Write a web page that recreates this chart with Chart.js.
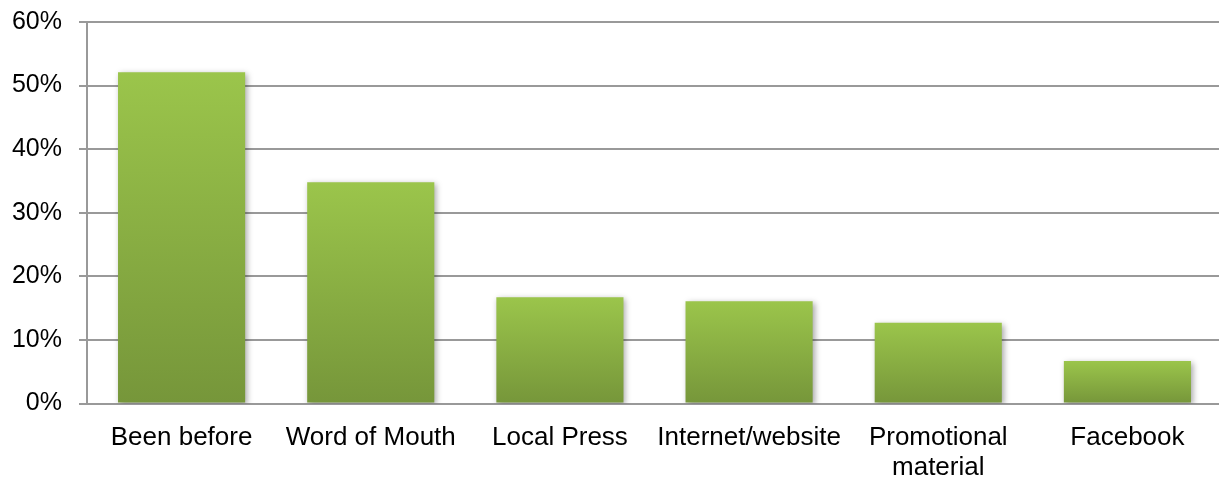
<!DOCTYPE html>
<html>
<head>
<meta charset="utf-8">
<title>How did you hear about us?</title>
<script src="https://cdn.jsdelivr.net/npm/chart.js@4/dist/chart.umd.min.js"></script>
<style>
    html, body { margin: 0; padding: 0; background: #fff; overflow: hidden; }
    #caja { width: 1222px; height: 489px; margin-top: -10px; }
</style>
</head>
<body>
<div id="caja"><canvas id="fuentes"></canvas></div>
<script>
// categorias y porcentajes de cada barra
const categorias = ["Been before", "Word of Mouth", "Local Press", "Internet/website", ["Promotional", "material"], "Facebook"];
const porcentajes = [52.1, 34.8, 16.7, 16.1, 12.7, 6.7];
const ticksY = [0, 10, 20, 30, 40, 50, 60];

// degradado vertical de cada barra, claro arriba y oscuro abajo
function degradado(context) {
    const chart = context.chart;
    const y = chart.scales && chart.scales.y;
    if (!chart.chartArea || !y || context.raw === undefined) return "#8DB446";
    const arriba = y.getPixelForValue(context.raw);
    const abajo = y.getPixelForValue(0);
    const g = chart.ctx.createLinearGradient(0, arriba, 0, abajo);
    g.addColorStop(0, "#9BC54B");
    g.addColorStop(1, "#76963A");
    return g;
}

// sombra suave detras de las barras
const sombra = {
    id: "sombra",
    beforeDatasetsDraw(chart) {
        const ctx = chart.ctx;
        ctx.save();
        ctx.shadowColor = "rgba(0,0,0,0.35)";
        ctx.shadowBlur = 6;
        ctx.shadowOffsetX = 2;
        ctx.shadowOffsetY = 2;
    },
    afterDatasetsDraw(chart) {
        chart.ctx.restore();
    },
};

Chart.defaults.font.family = "'Liberation Sans', Arial, sans-serif";
Chart.defaults.color = "#000";

new Chart(document.getElementById("fuentes"), {
    type: "bar",
    data: {
        labels: categorias,
        datasets: [
            {
                data: porcentajes,
                backgroundColor: degradado,
                categoryPercentage: 0.672,
                barPercentage: 1,
            },
        ],
    },
    plugins: [sombra],
    options: {
        responsive: true,
        maintainAspectRatio: false,
        animation: false,
        layout: {
            padding: { top: 0, right: 0, bottom: 0, left: 0 },
        },
        plugins: {
            legend: { display: false },
            tooltip: { enabled: false },
        },
        scales: {
            x: {
                grid: { display: false },
                border: { display: false },
                ticks: {
                    padding: 11,
                    maxRotation: 0,
                    autoSkip: false,
                    font: { size: 26, lineHeight: 1.15 },
                },
                afterFit(scale) {
                    scale.height = 75.5;
                },
            },
            y: {
                min: 0,
                max: 60,
                afterBuildTicks(scale) {
                    scale.ticks = ticksY.map((v) => ({ value: v }));
                },
                grid: {
                    color: "#999999",
                    lineWidth: 2,
                    tickLength: 8,
                },
                border: { color: "#999999", width: 2 },
                ticks: {
                    padding: 17,
                    font: { size: 25 },
                    callback: function (numero) {
                        return numero + "%";
                    },
                },
                afterFit(scale) {
                    scale.width = 87;
                },
            },
        },
    },
});
</script>
</body>
</html>
